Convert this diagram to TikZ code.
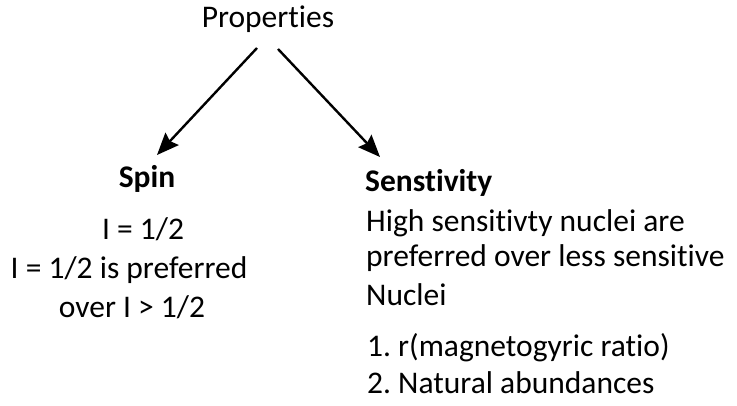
\documentclass[tikz,border=0pt]{standalone}
\usepackage{fontspec}
\setmainfont{Carlito}[Ligatures={NoCommon,NoRequired,NoContextual}]
\usetikzlibrary{arrows.meta}
\frenchspacing
\tikzset{
  txt/.style={inner sep=0pt, font=\fontsize{31.5}{37}\selectfont},
  head/.style={txt, font=\fontsize{31.5}{37}\selectfont\bfseries},
  link/.style={line width=2.4pt, -{Stealth[length=22pt, width=18pt, inset=3pt]}}
}
\begin{document}
\begin{tikzpicture}[x=1pt, y=1pt]
\useasboundingbox (0,0) rectangle (737,-406);
% root
\node[txt, anchor=base] (prop) at (268,-28) {Properties};
% left branch
\node[head, anchor=base] (spin) at (147,-188) {Spin};
\node[txt, anchor=base] (s1) at (143,-240) {I = 1/2};
\node[txt, anchor=base] (s2) at (129,-279) {I = 1/2 is preferred};
\node[txt, anchor=base] (s3) at (132,-318) {over I > 1/2};
% right branch
\node[head, anchor=base west] (sens) at (365,-192) {Senstivity};
\node[txt, anchor=base west] (r1) at (366,-232) {High sensitivty nuclei are};
\node[txt, anchor=base west] (r2) at (366,-267) {preferred over less sensitive};
\node[txt, anchor=base west] (r3) at (366,-306) {Nuclei};
\node[txt, anchor=base west] (r4) at (367,-356) {1. r(magnetogyric ratio)};
\node[txt, anchor=base west] (r5) at (367,-393) {2. Natural abundances};
% arrow ends
\coordinate (pl) at ([xshift=-11pt, yshift=-20pt]prop.base);
\coordinate (pr) at ([xshift=10pt, yshift=-21pt]prop.base);
\coordinate (sl) at ([xshift=10pt, yshift=33pt]spin.base);
\coordinate (sr) at ([xshift=15pt, yshift=35pt]sens.base west);
\draw[link] (pl) -- (sl);
\draw[link] (pr) -- (sr);
\end{tikzpicture}
\end{document}
